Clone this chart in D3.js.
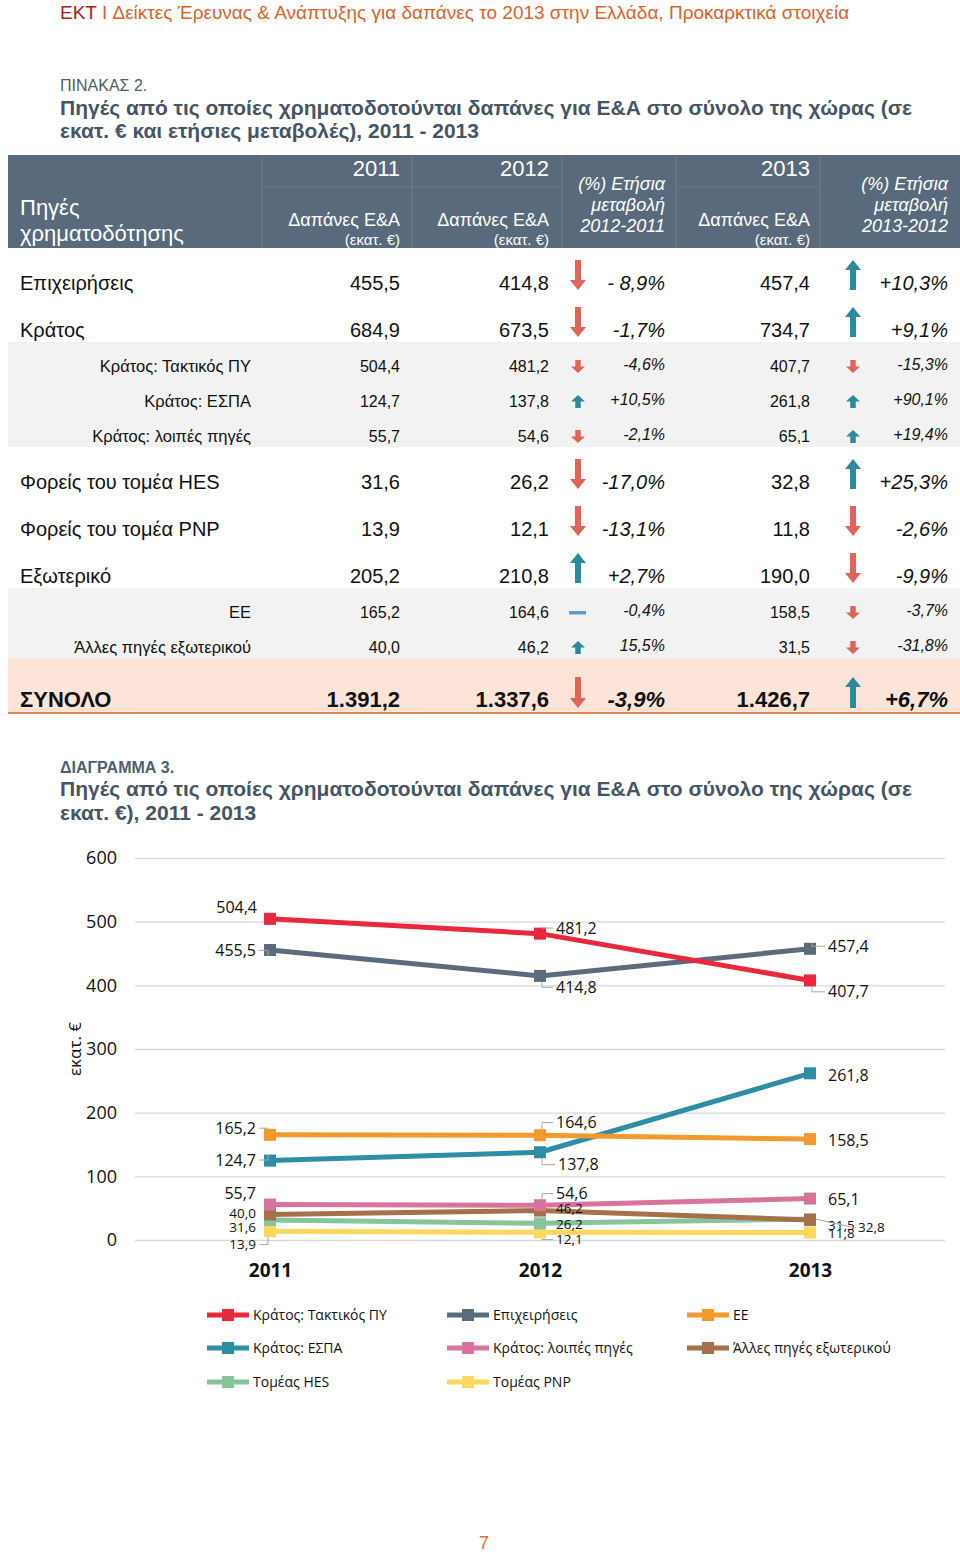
<!DOCTYPE html>
<html><head><meta charset="utf-8">
<script src="https://cdn.jsdelivr.net/npm/d3@7"></script>
<style>
html,body{margin:0;padding:0;background:#fff;}
svg{display:block;}
</style></head>
<body>
<svg id="page" width="960" height="1557"></svg>
<script>
// ---------------- TABLE DATA ----------------
const rowLabels = ["Επιχειρήσεις","Κράτος","Κράτος: Τακτικός ΠΥ","Κράτος: ΕΣΠΑ","Κράτος: λοιπές πηγές",
  "Φορείς του τομέα HES","Φορείς του τομέα PNP","Εξωτερικό","ΕΕ","Άλλες πηγές εξωτερικού","ΣΥΝΟΛΟ"];
const rowTypes = ["main","main","sub","sub","sub","main","main","main","sub","sub","total"];
const val2011 = ["455,5","684,9","504,4","124,7","55,7","31,6","13,9","205,2","165,2","40,0","1.391,2"];
const val2012 = ["414,8","673,5","481,2","137,8","54,6","26,2","12,1","210,8","164,6","46,2","1.337,6"];
const pct2012 = ["- 8,9%","-1,7%","-4,6%","+10,5%","-2,1%","-17,0%","-13,1%","+2,7%","-0,4%","15,5%","-3,9%"];
const val2013 = ["457,4","734,7","407,7","261,8","65,1","32,8","11,8","190,0","158,5","31,5","1.426,7"];
const pct2013 = ["+10,3%","+9,1%","-15,3%","+90,1%","+19,4%","+25,3%","-2,6%","-9,9%","-3,7%","-31,8%","+6,7%"];
const yearHeads = ["2011","2012","2013"];

// ---------------- CHART DATA ----------------
const years = ["2011","2012","2013"];
const seriesNames = ["Κράτος: Τακτικός ΠΥ","Επιχειρήσεις","ΕΕ","Κράτος: ΕΣΠΑ","Κράτος: λοιπές πηγές","Άλλες πηγές εξωτερικού","Τομέας HES","Τομέας PNP"];
const sTaktikos = [504.4,481.2,407.7];
const sEpixeiriseis = [455.5,414.8,457.4];
const sEE = [165.2,164.6,158.5];
const sESPA = [124.7,137.8,261.8];
const sLoipes = [55.7,54.6,65.1];
const sAlles = [40.0,46.2,31.5];
const sHES = [31.6,26.2,32.8];
const sPNP = [13.9,12.1,11.8];
const yTicks = [0,100,200,300,400,500,600];

// ---------------- STYLE / LAYOUT ----------------
const seriesColors = ["#e8283c","#5b6b7c","#f29a2e","#2e8ea5","#d8749c","#a5714a","#86c59c","#fdd75e"];
const seriesValues = [sTaktikos,sEpixeiriseis,sEE,sESPA,sLoipes,sAlles,sHES,sPNP];
// label placement per series per point: [dx, dy(baseline offset), anchor, size, leader]
const labelLayout = [
  [[-13,-6,"end",16,0],[16,0,"start",16,1],[18,17,"start",16,1]],
  [[-14,6,"end",16,1],[16,17,"start",16,1],[18,3,"start",16,1]],
  [[-14,-1,"end",16,1],[16,-7,"start",16,1],[18,7,"start",16,0]],
  [[-14,5,"end",16,1],[18,18,"start",16,1],[18,8,"start",16,0]],
  [[-14,-6,"end",16,0],[16,-6,"start",16,1],[18,6,"start",16,0]],
  [[-14,3,"end",13.5,0],[16,2,"start",13.5,0],[18,10,"start",13.5,0]],
  [[-14,12,"end",13.5,0],[16,6,"start",13.5,0],[48,13,"start",13.5,2]],
  [[-14,18,"end",13.5,1],[16,12,"start",13.5,1],[18,6,"start",13.5,0]]
];

const FT = "'Liberation Sans', Arial, sans-serif";
const FC = "'Open Sans','Noto Sans', sans-serif";

const svg = d3.select("#page");

// ---------- Page header ----------
const hdr = svg.append("text").attr("x",60).attr("y",19).attr("font-family",FT).attr("font-size",19);
hdr.append("tspan").attr("fill","#a01d22").text("ΕΚΤ");
hdr.append("tspan").attr("fill","#d6622c").text(" I Δείκτες Έρευνας & Ανάπτυξης για δαπάνες το 2013 στην Ελλάδα, Προκαρκτικά στοιχεία");

svg.append("text").attr("x",60).attr("y",91).attr("font-family",FT).attr("font-size",16).attr("fill","#4f5b66").text("ΠΙΝΑΚΑΣ 2.");
svg.append("text").attr("x",60).attr("y",115).attr("font-family",FT).attr("font-weight","bold").attr("font-size",21).attr("fill","#465564")
  .text("Πηγές από τις οποίες χρηματοδοτούνται δαπάνες για Ε&Α στο σύνολο της χώρας (σε");
svg.append("text").attr("x",60).attr("y",138).attr("font-family",FT).attr("font-weight","bold").attr("font-size",21).attr("fill","#465564")
  .text("εκατ. € και ετήσιες μεταβολές), 2011 - 2013");

// ---------- Table header ----------
const colVal = [400,549,810];
const colPct = [665,948];
const colArrow = [578,853];
svg.append("rect").attr("x",8).attr("y",155).attr("width",952).attr("height",93).attr("fill","#586a7b");
const sepC = "#6d7d8d";
[262,412,562,676,820].forEach(x=>svg.append("line").attr("x1",x).attr("x2",x).attr("y1",155).attr("y2",248).attr("stroke",sepC).attr("stroke-width",1));
svg.append("line").attr("x1",262).attr("x2",562).attr("y1",187).attr("y2",187).attr("stroke",sepC);
svg.append("line").attr("x1",676).attr("x2",820).attr("y1",187).attr("y2",187).attr("stroke",sepC);
svg.append("text").attr("x",20).attr("y",215).attr("font-family",FT).attr("font-size",22).attr("fill","#fff").text("Πηγές");
svg.append("text").attr("x",20).attr("y",241).attr("font-family",FT).attr("font-size",22).attr("fill","#fff").text("χρηματοδότησης");
yearHeads.forEach((yh,i)=>{
  svg.append("text").attr("x",colVal[i]).attr("y",176).attr("text-anchor","end").attr("font-family",FT).attr("font-size",22).attr("fill","#fff").text(yh);
  svg.append("text").attr("x",colVal[i]).attr("y",226).attr("text-anchor","end").attr("font-family",FT).attr("font-size",18).attr("fill","#fff").text("Δαπάνες Ε&Α");
  svg.append("text").attr("x",colVal[i]).attr("y",245).attr("text-anchor","end").attr("font-family",FT).attr("font-size",15).attr("fill","#fff").text("(εκατ. €)");
});
[["(%) Ετήσια","μεταβολή","2012-2011"],["(%) Ετήσια","μεταβολή","2013-2012"]].forEach((lines,i)=>{
  lines.forEach((t,j)=>svg.append("text").attr("x",colPct[i]).attr("y",190+j*21).attr("text-anchor","end")
    .attr("font-family",FT).attr("font-style","italic").attr("font-size",18).attr("fill","#fff").text(t));
});

// ---------- Table rows ----------
const rowH = {main:47, sub:35, total:55};
let yTop = 248;
const rows = rowLabels.map((lab,i)=>{
  const r = {lab, type:rowTypes[i], top:yTop, v:[val2011[i],val2012[i],val2013[i]], p:[pct2012[i],pct2013[i]]};
  yTop += rowH[r.type];
  return r;
});
const arrowRed = "#e0645a", arrowTeal = "#2b8a9c", dashBlue = "#5b9bd5";

function parsePct(s){ return parseFloat(s.replace(/\s/g,"").replace("%","").replace(",",".")); }
function drawArrow(g, cx, y0, y1, dir, big){
  const sw = big?6:5.5, hw = big?8:7, hl = big?10:6.5;
  let d;
  if(dir>0){
    d = `M${cx},${y0} L${cx+hw},${y0+hl} L${cx+sw/2},${y0+hl} L${cx+sw/2},${y1} L${cx-sw/2},${y1} L${cx-sw/2},${y0+hl} L${cx-hw},${y0+hl} Z`;
  } else {
    d = `M${cx},${y1} L${cx+hw},${y1-hl} L${cx+sw/2},${y1-hl} L${cx+sw/2},${y0} L${cx-sw/2},${y0} L${cx-sw/2},${y1-hl} L${cx-hw},${y1-hl} Z`;
  }
  g.append("path").attr("d",d).attr("fill",dir>0?arrowTeal:arrowRed);
}

const tg = svg.append("g");
rows.forEach(r=>{
  if(r.type==="sub") tg.append("rect").attr("x",8).attr("y",r.top).attr("width",952).attr("height",rowH.sub).attr("fill","#f2f2f2");
  if(r.type==="total"){
    tg.append("rect").attr("x",8).attr("y",r.top).attr("width",952).attr("height",rowH.total).attr("fill","#fde4d8");
    tg.append("line").attr("x1",8).attr("x2",960).attr("y1",r.top+rowH.total).attr("y2",r.top+rowH.total).attr("stroke","#e08b55").attr("stroke-width",2);
  }
});
rows.forEach(r=>{
  let fs, base, bold=false, lx, lanchor, pfs, pbase, ay0, ay1, big;
  if(r.type==="main"){ fs=20; base=r.top+42; lx=20; lanchor="start"; pfs=20; pbase=base; ay0=r.top+12; ay1=r.top+42; big=true; }
  else if(r.type==="sub"){ fs=16.5; base=r.top+30; lx=251; lanchor="end"; pfs=16; pbase=base-2; ay0=r.top+18; ay1=r.top+31; big=false; }
  else { fs=22; base=r.top+49; lx=20; lanchor="start"; pfs=22; pbase=base; bold=true; ay0=r.top+19; ay1=r.top+50; big=true; }
  const fw = bold?"bold":"normal";
  tg.append("text").attr("x",lx).attr("y",base).attr("text-anchor",lanchor).attr("font-family",FT).attr("font-size",fs).attr("font-weight",fw).attr("fill","#111").text(r.lab);
  r.v.forEach((v,i)=>tg.append("text").attr("x",colVal[i]).attr("y",base).attr("text-anchor","end").attr("font-family",FT).attr("font-size",r.type==="sub"?16:fs).attr("font-weight",fw).attr("fill","#111").text(v));
  r.p.forEach((p,i)=>{
    tg.append("text").attr("x",colPct[i]).attr("y",pbase).attr("text-anchor","end").attr("font-family",FT).attr("font-style","italic").attr("font-size",pfs).attr("font-weight",fw).attr("fill","#111").text(p);
    const val = parsePct(p);
    if(Math.abs(val)<1){
      tg.append("rect").attr("x",colArrow[i]-9).attr("y",(ay0+ay1)/2-1.5).attr("width",17).attr("height",3.5).attr("fill",dashBlue);
    } else {
      drawArrow(tg, colArrow[i], ay0, ay1, val>0?1:-1, big);
    }
  });
});

// ---------- Chart titles ----------
svg.append("text").attr("x",60).attr("y",773).attr("font-family",FT).attr("font-weight","bold").attr("font-size",16).attr("fill","#4f5f6f").text("ΔΙΑΓΡΑΜΜΑ 3.");
svg.append("text").attr("x",60).attr("y",796).attr("font-family",FT).attr("font-weight","bold").attr("font-size",21).attr("fill","#465564")
  .text("Πηγές από τις οποίες χρηματοδοτούνται δαπάνες για Ε&Α στο σύνολο της χώρας (σε");
svg.append("text").attr("x",60).attr("y",820).attr("font-family",FT).attr("font-weight","bold").attr("font-size",21).attr("fill","#465564")
  .text("εκατ. €), 2011 - 2013");

// ---------- Chart ----------
const x = d3.scalePoint().domain(years).range([135,945]).padding(0.5);
const y = d3.scaleLinear().domain([0,600]).range([1240,858]);
const cg = svg.append("g");

const yAxis = d3.axisLeft(y).tickValues(yTicks).tickSize(-810).tickPadding(18).tickFormat(d3.format("d"));
const ya = cg.append("g").attr("transform","translate(135,0)").call(yAxis);
ya.select(".domain").remove();
ya.selectAll(".tick line").attr("stroke","#d9d9d9").attr("stroke-width",1.3);
ya.selectAll(".tick text").attr("font-family",FC).attr("font-size",18).attr("fill","#111");

const xAxis = d3.axisBottom(x).tickSize(0).tickPadding(0);
const xa = cg.append("g").attr("transform","translate(0,1270)").call(xAxis);
xa.select(".domain").remove();
xa.selectAll(".tick text").attr("font-family",FC).attr("font-size",19).attr("font-weight","bold").attr("fill","#111").attr("dy","0.35em");

cg.append("text").attr("transform","translate(81,1049) rotate(-90)").attr("text-anchor","middle")
  .attr("font-family",FC).attr("font-size",17).attr("fill","#111").text("εκατ. €");

const line = d3.line().x((d,i)=>x(years[i])).y(d=>y(d));
const order = d3.range(seriesNames.length).reverse();
order.forEach(si=>{
  cg.append("path").datum(seriesValues[si]).attr("d",line).attr("fill","none")
    .attr("stroke",seriesColors[si]).attr("stroke-width",5).attr("stroke-linejoin","round");
  cg.selectAll(null).data(seriesValues[si]).enter().append("rect")
    .attr("x",(d,i)=>x(years[i])-6).attr("y",d=>y(d)-6).attr("width",12).attr("height",12).attr("fill",seriesColors[si]);
});
const lg = cg.append("g");
seriesValues.forEach((vals,si)=>{
  vals.forEach((v,i)=>{
    const [dx,dy,anchor,size,leader] = labelLayout[si][i];
    const px = x(years[i]), py = y(v);
    const lx = px+dx, ly = py+dy;
    if(leader===1){
      const sgn = anchor==="end"?-1:1;
      const vy = ly - size*0.35;
      const ex = lx - sgn*3;
      lg.append("path").attr("d",`M${px+sgn*2},${py+(vy<py?-6:6)} L${px+sgn*2},${vy} L${ex},${vy}`)
        .attr("fill","none").attr("stroke","#a6a6a6").attr("stroke-width",1);
    } else if(leader===2){
      lg.append("line").attr("x1",px+6).attr("y1",py).attr("x2",lx-2).attr("y2",ly-size*0.3).attr("stroke","#a6a6a6").attr("stroke-width",1);
    }
    lg.append("text").attr("x",lx).attr("y",ly).attr("text-anchor",anchor).attr("font-family",FC).attr("font-size",size).attr("fill","#111")
      .text(d3.format(".1f")(v).replace(".",","));
  });
});

// legend
const legX = [207,447,687];
const legY = [1315,1348,1382];
seriesNames.forEach((n,i)=>{
  const lx = legX[i%3], ly = legY[Math.floor(i/3)];
  const g = svg.append("g");
  g.append("line").attr("x1",lx).attr("x2",lx+42).attr("y1",ly).attr("y2",ly).attr("stroke",seriesColors[i]).attr("stroke-width",5);
  g.append("rect").attr("x",lx+15).attr("y",ly-6).attr("width",12).attr("height",12).attr("fill",seriesColors[i]);
  g.append("text").attr("x",lx+46).attr("y",ly+5).attr("font-family",FC).attr("font-size",14).attr("fill","#111").text(n);
});

// page number
svg.append("text").attr("x",484).attr("y",1549).attr("text-anchor","middle").attr("font-family",FT).attr("font-size",18).attr("fill","#e0712f").text("7");
</script>
</body></html>
